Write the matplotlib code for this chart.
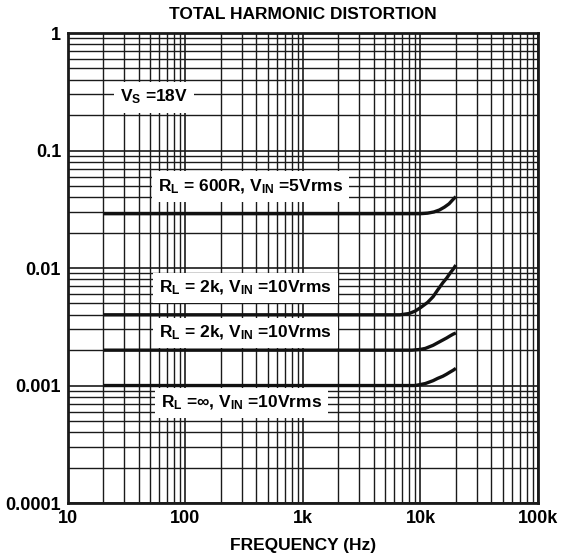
import matplotlib
matplotlib.use('Agg')
import matplotlib.pyplot as plt
from matplotlib.ticker import FixedLocator, FixedFormatter, LogLocator, NullFormatter

plt.rcParams['font.family'] = ['Liberation Sans', 'DejaVu Sans']
plt.rcParams['font.weight'] = 'bold'

# THD curves (frequency in Hz, THD in %)
freq_600r = [20, 10000, 11500, 13000, 14500, 16000, 17500, 19000, 20000]
thd_600r = [0.029, 0.029, 0.0293, 0.0300, 0.0312, 0.0330, 0.0352, 0.0385, 0.0405]

freq_2k_hi = [20, 6700, 8000, 9000, 10000, 11500, 12800, 14000, 15500, 16700, 17800, 19000, 20000]
thd_2k_hi = [0.004, 0.004, 0.0041, 0.0043, 0.0046, 0.0051, 0.0057, 0.0065, 0.0075, 0.0082, 0.009, 0.0098, 0.0106]

freq_2k_lo = [20, 8500, 10000, 11000, 12800, 14000, 15500, 16700, 17800, 19000, 20000]
thd_2k_lo = [0.002, 0.002, 0.00203, 0.00207, 0.0022, 0.00231, 0.00244, 0.00254, 0.00264, 0.00274, 0.0028]

freq_inf = [20, 9000, 10000, 11000, 12800, 14000, 15500, 16700, 17800, 19000, 20000]
thd_inf = [0.001, 0.001, 0.00102, 0.00104, 0.0011, 0.00115, 0.0012, 0.00125, 0.0013, 0.00135, 0.0014]

x_ticks = [10, 100, 1000, 10000, 100000]
x_labels = ['10', '100', '1k', '10k', '100k']
y_ticks = [0.0001, 0.001, 0.01, 0.1, 1]
y_labels = ['0.0001', '0.001', '0.01', '0.1', '1']

fig = plt.figure(figsize=(5.69, 5.57), dpi=100)
ax = fig.add_axes([0.1195, 0.0969, 0.826, 0.8438])

ax.set_xscale('log')
ax.set_yscale('log')
ax.set_xlim(10, 100000)
ax.set_ylim(0.0001, 1)

ax.xaxis.set_major_locator(FixedLocator(x_ticks))
ax.xaxis.set_major_formatter(FixedFormatter(x_labels))
ax.yaxis.set_major_locator(FixedLocator(y_ticks))
ax.yaxis.set_major_formatter(FixedFormatter(y_labels))
for axis in (ax.xaxis, ax.yaxis):
    axis.set_minor_locator(LogLocator(base=10, subs=range(2, 10), numticks=20))
    axis.set_minor_formatter(NullFormatter())

ax.tick_params(which='both', length=0, labelsize=13, pad=5)
ax.grid(which='major', color='#1a1a1a', lw=1.2)
ax.grid(which='minor', color='#1a1a1a', lw=1.0)
ax.set_axisbelow(True)
for s in ax.spines.values():
    s.set_linewidth(2.0)
    s.set_color('#1a1a1a')

lc = '#111111'
for f, v in [(freq_600r, thd_600r), (freq_2k_hi, thd_2k_hi),
             (freq_2k_lo, thd_2k_lo), (freq_inf, thd_inf)]:
    ax.plot(f, v, color=lc, lw=2.4, solid_capstyle='butt', solid_joinstyle='round', zorder=3)

box = dict(facecolor='white', edgecolor='none', boxstyle='square,pad=0.35')
tkw = dict(fontsize=12.5, fontweight='bold', ha='left', va='center', bbox=box, zorder=4)
ax.text(27.7, 0.285, r'$\mathregular{V_S}$ =18V', **tkw)
ax.text(58, 0.0492, r'$\mathregular{R_L}$ = 600R, $\mathregular{V_{IN}}$ =5Vrms', **tkw)
ax.text(59.5, 0.00676, r'$\mathregular{R_L}$ = 2k, $\mathregular{V_{IN}}$ =10Vrms', **tkw)
ax.text(59.5, 0.0028, r'$\mathregular{R_L}$ = 2k, $\mathregular{V_{IN}}$ =10Vrms', **tkw)
ax.text(61.8, 0.00071, r'$\mathregular{R_L}$ =∞, $\mathregular{V_{IN}}$ =10Vrms', **tkw)

ax.set_title('TOTAL HARMONIC DISTORTION', fontsize=12.5, fontweight='bold', pad=10)
ax.set_xlabel('FREQUENCY (Hz)', fontsize=12.5, fontweight='bold', labelpad=8)

fig.savefig('out.png', dpi=100)
